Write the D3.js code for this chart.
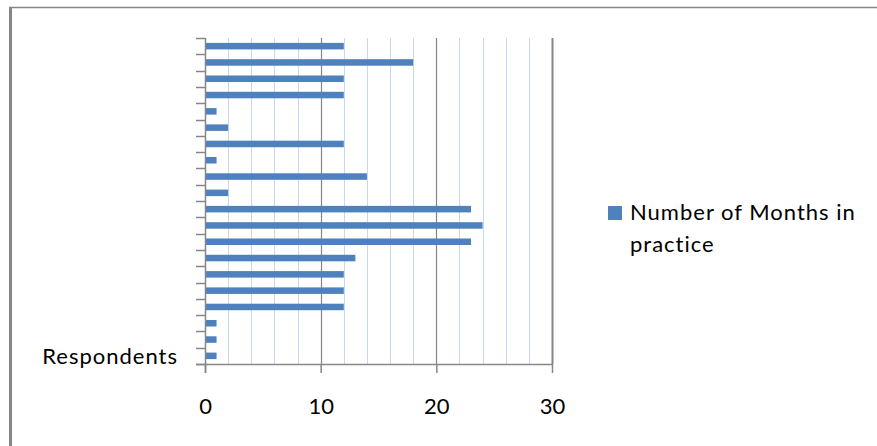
<!DOCTYPE html>
<html>
<head>
<meta charset="utf-8">
<script src="https://cdn.jsdelivr.net/npm/d3@7"></script>
<style>
html,body{margin:0;padding:0;background:#fff;}
svg{display:block;}
</style>
</head>
<body>
<svg id="chart" width="877" height="446"></svg>
<script>
// Categories listed bottom-to-top (as the category axis runs upward)
const categoryLabels = ["Respondents","","","","","","","","","","","","","","","","","","",""];
const monthsInPractice = [1,1,1,12,12,12,13,23,24,23,2,14,1,12,2,1,12,12,18,12];
const seriesName = "Number of Months in practice";
const xTicksMajor = [0,10,20,30];
const xTicksMinor = [2,4,6,8,12,14,16,18,22,24,26,28];

const svg = d3.select("#chart");
const font = "Lato, 'Open Sans', sans-serif";
const axisColor = "#868686";
const barColor = "#4F81BD";
const minorColor = "#C6D9F1";

// outer frame (top + left only visible)
svg.append("line").attr("x1",9).attr("x2",877).attr("y1",7.5).attr("y2",7.5)
  .attr("stroke",axisColor).attr("stroke-width",1.5);
svg.append("line").attr("x1",10.5).attr("x2",10.5).attr("y1",7).attr("y2",446)
  .attr("stroke",axisColor).attr("stroke-width",3);

const plot = {left:205, right:552, top:38, bottom:364};
const x = d3.scaleLinear().domain([0,30]).range([plot.left, plot.right]);
const idx = d3.range(categoryLabels.length);
const y = d3.scaleBand().domain(idx).range([plot.bottom, plot.top]).paddingInner(0).paddingOuter(0);
const bw = y.bandwidth();

// minor gridlines
svg.append("g").selectAll("line").data(xTicksMinor).join("line")
  .attr("x1",d=>Math.round(x(d))+0.5).attr("x2",d=>Math.round(x(d))+0.5)
  .attr("y1",plot.top).attr("y2",plot.bottom)
  .attr("stroke",minorColor).attr("stroke-width",1);
// major gridlines
svg.append("g").selectAll("line").data(xTicksMajor.filter(d=>d>0)).join("line")
  .attr("x1",d=>Math.round(x(d))+0.5).attr("x2",d=>Math.round(x(d))+0.5)
  .attr("y1",plot.top).attr("y2",plot.bottom)
  .attr("stroke",axisColor).attr("stroke-width",d=>d===30?2:1.2);

// bars
const barH = bw*0.4;
svg.append("g").selectAll("rect").data(monthsInPractice).join("rect")
  .attr("x",x(0)+1)
  .attr("y",(d,i)=>y(i)+(bw-barH)/2)
  .attr("width",d=>x(d)-x(0)-1)
  .attr("height",barH)
  .attr("fill",barColor);

// category axis (ticks at band edges)
const edgeYs = idx.map(i=>y(i)+bw).concat([y(idx[idx.length-1])]);
svg.append("g").selectAll("line").data(edgeYs).join("line")
  .attr("x1",plot.left-9).attr("x2",plot.left)
  .attr("y1",d=>Math.round(d)+0.5).attr("y2",d=>Math.round(d)+0.5)
  .attr("stroke",axisColor).attr("stroke-width",1.5);
svg.append("line").attr("x1",plot.left+0.5).attr("x2",plot.left+0.5)
  .attr("y1",plot.top).attr("y2",plot.bottom+9)
  .attr("stroke",axisColor).attr("stroke-width",1.5);
svg.append("g").selectAll("text").data(idx.filter(i=>categoryLabels[i]!=="")).join("text")
  .attr("x",178).attr("y",i=>y(i)+bw/2)
  .attr("dy","0.35em")
  .attr("text-anchor","end")
  .attr("font-family",font).attr("font-size",22).attr("letter-spacing","1px").attr("fill","#000")
  .text(i=>categoryLabels[i]);

// value axis
const xAxis = d3.axisBottom(x).tickValues(xTicksMajor).tickSize(9).tickPadding(25).tickSizeOuter(0);
const gx = svg.append("g").attr("transform",`translate(0,${plot.bottom})`).call(xAxis);
gx.select(".domain").attr("stroke",axisColor).attr("stroke-width",1.5);
gx.selectAll(".tick line").attr("stroke",axisColor).attr("stroke-width",1.5);
gx.selectAll(".tick text").attr("font-family",font).attr("font-size",22).attr("fill","#000");
svg.append("line").attr("x1",plot.left-9).attr("x2",plot.left)
  .attr("y1",plot.bottom+0.5).attr("y2",plot.bottom+0.5)
  .attr("stroke",axisColor).attr("stroke-width",1.5);

// legend
const lg = svg.append("g");
lg.append("rect").attr("x",608).attr("y",206).attr("width",14).attr("height",14).attr("fill",barColor);
const words = seriesName.split(" ");
const lines = [words.slice(0,4).join(" "), words.slice(4).join(" ")];
lg.selectAll("text").data(lines).join("text")
  .attr("x",630).attr("y",(d,i)=>220+i*32)
  .attr("font-family",font).attr("font-size",22).attr("letter-spacing","1px").attr("fill","#000")
  .text(d=>d);
</script>
</body>
</html>
